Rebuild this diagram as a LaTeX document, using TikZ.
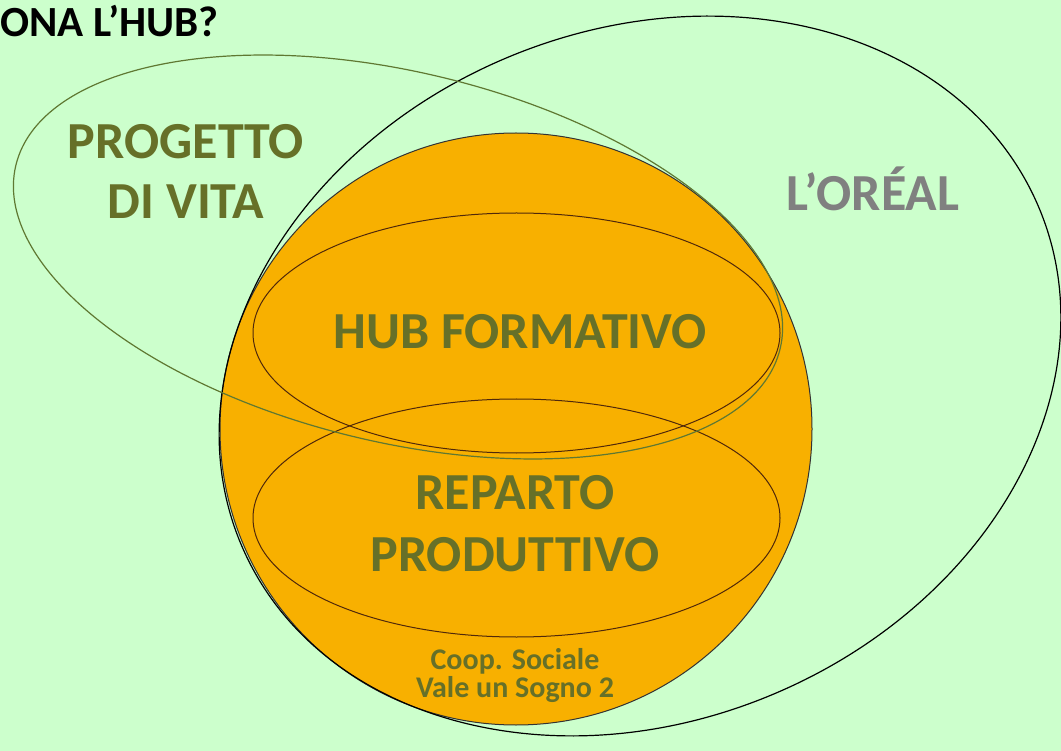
\documentclass[tikz,border=0pt]{standalone}
\usepackage{fontspec}
\setmainfont{Carlito}
\definecolor{mint}{RGB}{204,255,204}
\definecolor{amber}{RGB}{248,176,0}
\definecolor{olivetext}{RGB}{102,112,40}
\definecolor{oliveline}{RGB}{95,120,50}
\definecolor{brownline}{RGB}{80,40,10}
\begin{document}
\begin{tikzpicture}[x=1pt,y=-1pt,
  lbl/.style={font=\bfseries\fontsize{52}{60}\selectfont,text=olivetext,inner sep=0pt,anchor=base},
  small/.style={lbl,font=\bfseries\fontsize{30}{24}\selectfont},
  rim/.style={line width=1pt}]
\fill[mint] (0,0) rectangle (1061,751);
\useasboundingbox (0,0) rectangle (1061,751);
% cooperativa
\filldraw[fill=amber,draw=black!80,rim] (516,429) circle [radius=296];
\draw[brownline,rim] (516.5,333) ellipse [x radius=263.5,y radius=120];
\draw[brownline,rim] (516.5,518) ellipse [x radius=263.5,y radius=119];
% insiemi esterni
\draw[black,line width=1.2pt] (640,376) ellipse [x radius=433,y radius=345,rotate=23];
\draw[oliveline,line width=1.2pt] (398,257) ellipse [x radius=393,y radius=185,rotate=-13.5];
% testi
\node[lbl,anchor=base east,text=black,font=\bfseries\fontsize{43}{50}\selectfont] (titolo) at (219,37) {ONA L’HUB?};
\node[lbl] (progetto) at (186,159) {PROGETTO};
\node[lbl] (vita) at (186,219) {DI VITA};
\node[lbl,text=gray] (loreal) at (873,211) {L’ORÉAL};
\node[lbl] (hub) at (520,349) {HUB FORMATIVO};
\node[lbl] (reparto) at (515,509) {REPARTO};
\node[lbl] (produttivo) at (515,571) {PRODUTTIVO};
\node[small] (coop) at (515,669) {Coop. Sociale};
\node[small] (sogno) at (515,697) {Vale un Sogno 2};
\end{tikzpicture}
\end{document}
